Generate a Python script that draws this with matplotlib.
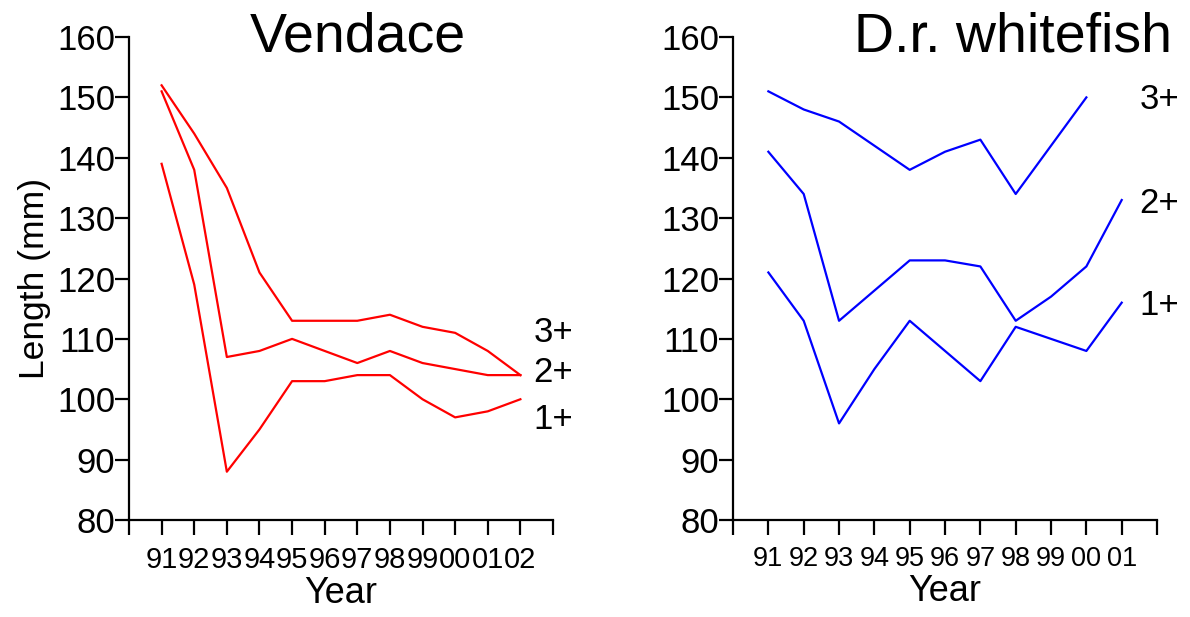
import matplotlib
matplotlib.use("Agg")
import matplotlib.pyplot as plt

plt.rcParams['font.family'] = ['Liberation Sans', 'DejaVu Sans']

# Vendace, years 1991-2002
vend_years = [91, 92, 93, 94, 95, 96, 97, 98, 99, 100, 101, 102]
vend_labels = ["91", "92", "93", "94", "95", "96", "97", "98", "99", "00", "01", "02"]
vend_3 = [152, 144, 135, 121, 113, 113, 113, 114, 112, 111, 108, 104]
vend_2 = [151, 138, 107, 108, 110, 108, 106, 108, 106, 105, 104, 104]
vend_1 = [139, 119, 88, 95, 103, 103, 104, 104, 100, 97, 98, 100]

# Whitefish, years 1991-2001 (3+ missing in 2001)
wf_years = [91, 92, 93, 94, 95, 96, 97, 98, 99, 100, 101]
wf_labels = ["91", "92", "93", "94", "95", "96", "97", "98", "99", "00", "01"]
wf_3 = [151, 148, 146, 142, 138, 141, 143, 134, 142, 150, None]
wf_2 = [141, 134, 113, 118, 123, 123, 122, 113, 117, 122, 133]
wf_1 = [121, 113, 96, 105, 113, 108, 103, 112, 110, 108, 116]

age_labels = ["3+", "2+", "1+"]


def style_axis(ax, years, labels, xmax, xsize):
    ax.set_xlim(90, xmax)
    ax.set_ylim(80, 160)
    ax.spines['top'].set_visible(False)
    ax.spines['right'].set_visible(False)
    for s in ['left', 'bottom']:
        ax.spines[s].set_linewidth(1.6)
    ax.set_xticks([90] + years + [xmax])
    ax.set_xticklabels([""] + labels + [""], fontsize=xsize)
    ax.set_yticks(range(80, 161, 10))
    ax.tick_params(axis='y', labelsize=25, length=10, width=1.6, pad=0)
    ax.tick_params(axis='x', length=11, width=1.6, pad=8)
    ax.set_xlabel("Year", fontsize=26, labelpad=1)


fig = plt.figure(figsize=(11.9, 6.17), dpi=100)
ax1 = fig.add_axes([0.1084, 0.1572, 0.3563, 0.7828])
ax2 = fig.add_axes([0.616, 0.1572, 0.3563, 0.7828])

# left panel
for vals in (vend_3, vend_2, vend_1):
    ax1.plot(vend_years, vals, color='#ff0000', lw=1.6)
style_axis(ax1, vend_years, vend_labels, 103, 21)
ax1.set_ylabel("Length (mm)", fontsize=25.5, labelpad=4)
for lab, yv in zip(age_labels, [111, 104.5, 96.6]):
    ax1.text(102.4, yv, lab, fontsize=25, va='center', ha='left', clip_on=False)
fig.text(0.301, 0.94, "Vendace", fontsize=40, ha='center', va='center')

# right panel
wf3_x = [x for x, v in zip(wf_years, wf_3) if v is not None]
wf3_y = [v for v in wf_3 if v is not None]
ax2.plot(wf3_x, wf3_y, color='#0000ff', lw=1.6)
ax2.plot(wf_years, wf_2, color='#0000ff', lw=1.6)
ax2.plot(wf_years, wf_1, color='#0000ff', lw=1.6)
style_axis(ax2, wf_years, wf_labels, 102, 19.5)
for lab, yv in zip(age_labels, [149.6, 132.5, 115.6]):
    ax2.text(101.5, yv, lab, fontsize=25, va='center', ha='left', clip_on=False)
fig.text(0.851, 0.94, "D.r. whitefish", fontsize=40, ha='center', va='center')

fig.savefig("out.png", dpi=100)
